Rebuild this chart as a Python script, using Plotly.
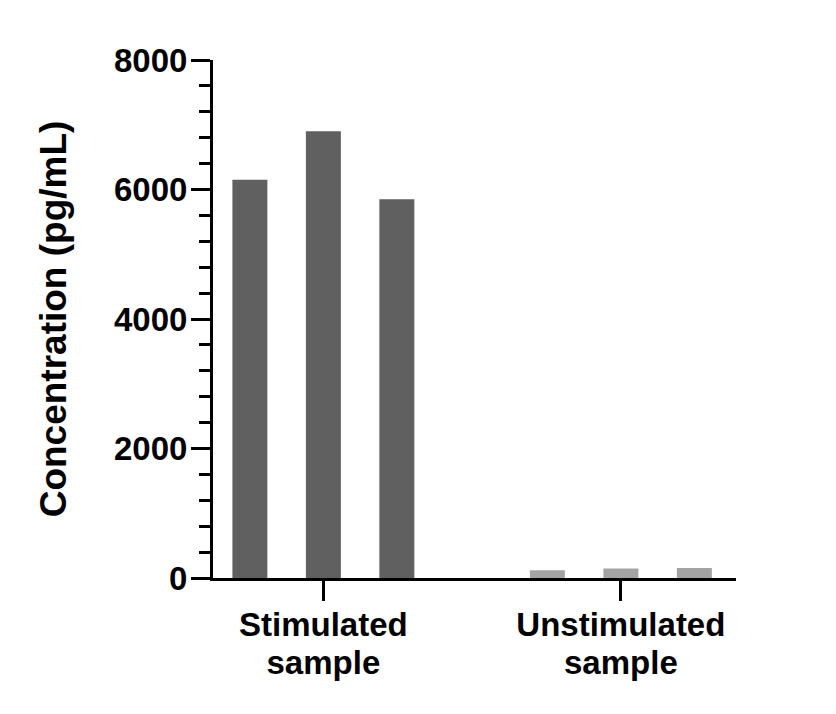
import plotly.graph_objects as go

# 刺激組 / 未刺激組 各三重複
categories = ["Stimulated sample", "Unstimulated sample"]
tick_lines = [["Stimulated", "sample"], ["Unstimulated", "sample"]]
rep1 = [6150, 120]
rep2 = [6900, 145]
rep3 = [5850, 155]
bar_colors = ["#606060", "#a3a3a3"]

y_ticks = [0, 2000, 4000, 6000, 8000]

FONT = "Liberation Sans, Arial, sans-serif"

# 兩行標籤，行距縮小
span = "<span style='font-size:33px'>{}</span>"
tick_text = ["<br>".join(span.format(s) for s in lines) for lines in tick_lines]

fig = go.Figure()
for vals in (rep1, rep2, rep3):
    fig.add_trace(go.Bar(
        x=categories,
        y=vals,
        marker=dict(color=bar_colors, line=dict(width=0)),
        showlegend=False,
    ))

fig.update_layout(
    width=836, height=714,
    paper_bgcolor="white", plot_bgcolor="white",
    barmode="group",
    bargap=0.259,
    bargroupgap=0.524,
    margin=dict(l=205, r=108, t=52, b=144),
    font=dict(family=FONT, color="black"),
    xaxis=dict(
        range=[-0.371, 1.387],
        tickvals=categories, ticktext=tick_text,
        showline=True, linecolor="black", linewidth=3,
        ticks="outside", ticklen=20, tickwidth=3, tickcolor="black",
        tickfont=dict(size=29, family=FONT, weight="bold"),
        showgrid=False, zeroline=False,
    ),
    yaxis=dict(
        range=[0, 8000],
        tickvals=y_ticks,
        showline=True, linecolor="black", linewidth=3,
        ticks="outside", ticklen=19, tickwidth=3, tickcolor="black",
        ticklabelstandoff=-3,
        tickfont=dict(size=33, family=FONT, weight="bold"),
        minor=dict(dtick=400, ticks="outside", ticklen=11, tickwidth=3, tickcolor="black"),
        showgrid=False, zeroline=False,
        title=dict(text="Concentration (pg/mL)", standoff=37,
                   font=dict(size=37, family=FONT, weight="bold")),
    ),
)

fig.write_html("out.html")
